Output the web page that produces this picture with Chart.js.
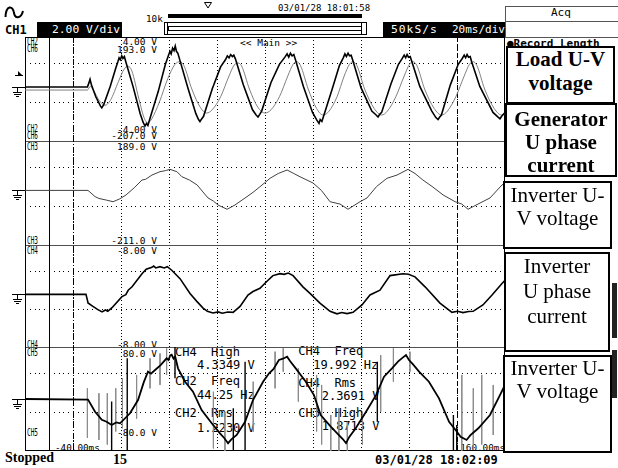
<!DOCTYPE html>
<html>
<head>
<meta charset="utf-8">
<script src="https://cdn.jsdelivr.net/npm/chart.js@4.4.1/dist/chart.umd.min.js"></script>
<style>
  html, body { margin: 0; padding: 0; background: #fff; }
  #scope { position: relative; width: 618px; height: 468px; overflow: hidden; background: #fff; }
  #scope canvas { position: absolute; left: 0; top: 0; z-index: 2; }
  .t { position: absolute; white-space: pre; line-height: 1; color: #000; z-index: 1; font-family: 'DejaVu Sans Mono', monospace; }
  .s { font-size: 9.5px; }
  .ch { font-size: 9.8px; transform: scaleX(0.62); transform-origin: 0 0; }
  .m { font-size: 12px; }
  .b { font-weight: bold; }
  .w { color: #fff; }
  .serif { font-family: 'Liberation Serif', 'Times New Roman', serif; }
  .inv { position: absolute; background: #000; z-index: 1; }
  .cell { position: absolute; border: 1px solid #555; box-sizing: border-box; z-index: 1; }
  .box { position: absolute; z-index: 3; background: #fff; border: 2px solid #000; box-sizing: border-box; text-align: center; white-space: nowrap;
         font-family: 'Liberation Serif', 'Times New Roman', serif; font-size: 21px; color: #000; }
</style>
</head>
<body>
<div id="scope">
  <svg width="618" height="40" style="position:absolute;left:0;top:0;z-index:1">
    <path d="M5.5 17 C6 5, 13 5, 14 13 C15 19, 21 19, 23 11" fill="none" stroke="#000" stroke-width="2"/>
    <polygon points="204.5,2.5 211.5,2.5 208,8" fill="none" stroke="#000" stroke-width="1"/>
    <rect x="168" y="14" width="194" height="4" fill="#000"/>
    <rect x="164.5" y="22.5" width="202" height="12" fill="none" stroke="#000"/>
    <rect x="168.5" y="26.5" width="193" height="4" fill="none" stroke="#000"/>
    <rect x="164.5" y="22.5" width="3" height="12" fill="none" stroke="#000"/>
    <rect x="361.5" y="22.5" width="5" height="12" fill="none" stroke="#000"/>
  </svg>

  <div class="t b" style="left:5px;top:23.6px;font-size:12px">CH1</div>
  <div class="inv" style="left:37px;top:22px;width:85px;height:15px"></div>
  <div class="t w" style="left:52px;top:23.7px;font-size:11.3px;z-index:2">2.00 V/div</div>
  <div class="t" style="left:146px;top:13.9px;font-size:9.3px">10k</div>
  <div class="t" style="left:278px;top:4px;font-size:9px">03/01/28 18:01:58</div>
  <div class="inv" style="left:383px;top:22px;width:122px;height:15px"></div>
  <div class="t w" style="left:391px;top:23.7px;font-size:11.3px;letter-spacing:1px;z-index:2">50kS/s</div>
  <div class="t w" style="left:452px;top:23.7px;font-size:11px;z-index:2">20ms/div</div>

  <div class="cell" style="left:505px;top:6px;width:130px;height:16px"></div>
  <div class="t" style="left:551px;top:7.3px;font-size:11px">Acq</div>
  <div class="cell" style="left:505px;top:21px;width:130px;height:17px"></div>
  <div class="t b" style="left:507px;top:37.7px;font-size:11px">●Record Length</div>

  <!-- channel range labels -->
  <div class="t ch" style="left:26.5px;top:37.3px">CH2</div>
  <div class="t ch" style="left:26.5px;top:44.3px">CH6</div>
  <div class="t s" style="right:461px;top:37.3px">4.00 V</div>
  <div class="t s" style="right:461px;top:45px">193.0 V</div>
  <div class="t s" style="left:240px;top:38.2px">&lt;&lt; Main &gt;&gt;</div>
  <div class="t ch" style="left:26.5px;top:124.3px">CH2</div>
  <div class="t ch" style="left:26.5px;top:131.3px">CH6</div>
  <div class="t s" style="right:461px;top:124.6px">-4.00 V</div>
  <div class="t s" style="right:461px;top:131.4px">-207.0 V</div>

  <div class="t ch" style="left:26.5px;top:142.1px">CH3</div>
  <div class="t s" style="right:461px;top:142.2px">189.0 V</div>
  <div class="t ch" style="left:26.5px;top:235.5px">CH3</div>
  <div class="t s" style="right:461px;top:236.2px">-211.0 V</div>

  <div class="t ch" style="left:26.5px;top:245.8px">CH4</div>
  <div class="t s" style="right:461px;top:246.2px">-8.00 V</div>
  <div class="t ch" style="left:26.5px;top:339.5px">CH4</div>
  <div class="t s" style="right:461px;top:339.6px">-8.00 V</div>

  <div class="t ch" style="left:26.5px;top:347.8px">CH5</div>
  <div class="t s" style="right:461px;top:349px">80.0 V</div>
  <div class="t ch" style="left:26.5px;top:428.3px">CH5</div>
  <div class="t s" style="right:461px;top:428px">-80.0 V</div>

  <div class="t" style="left:55px;top:443.2px;font-size:9.3px">-40.00ms</div>
  <div class="t" style="right:113px;top:443.2px;font-size:9.3px">160.00ms</div>

  <!-- measurements -->
  <div class="t m" style="left:175px;top:345.9px">CH4  High</div>
  <div class="t m" style="left:197px;top:359.3px">4.3349 V</div>
  <div class="t m" style="left:175px;top:375.3px">CH2  Freq</div>
  <div class="t m" style="left:197px;top:388.6px">44.25 Hz</div>
  <div class="t m" style="left:175px;top:406.9px">CH2  Rms</div>
  <div class="t m" style="left:197px;top:421.9px">1.2230 V</div>
  <div class="t m" style="left:298.3px;top:345.3px">CH4  Freq</div>
  <div class="t m" style="left:313.3px;top:358.6px">19.992 Hz</div>
  <div class="t m" style="left:298.3px;top:376.9px">CH4  Rms</div>
  <div class="t m" style="left:321.7px;top:390.3px">2.3691 V</div>
  <div class="t m" style="left:298.3px;top:406.9px">CH3  High</div>
  <div class="t m" style="left:321.7px;top:420.3px">1.8713 V</div>

  <div class="t b serif" style="left:5px;top:451px;font-size:14px">Stopped</div>
  <div class="t b serif" style="left:113px;top:452.6px;font-size:14px">15</div>
  <div class="t b" style="left:375px;top:453.6px;font-size:12px">03/01/28 18:02:09</div>

  <div style="position:absolute;left:612px;top:283px;width:5px;height:55px;background:#222;z-index:1"></div>
  <div style="position:absolute;left:612px;top:350px;width:5px;height:48px;background:#222;z-index:1"></div>

  <canvas id="chart" width="618" height="468"></canvas>

  <div class="box b" style="left:506px;top:46px;width:109px;height:58px;line-height:23.5px">Load U-V<br>voltage</div>
  <div class="box b" style="left:505px;top:103px;width:112px;height:74px;line-height:23.2px;padding-top:3px">Generator<br>U phase<br>current</div>
  <div class="box" style="left:503px;top:181px;width:109px;height:68px;line-height:23.3px;padding-top:1px">Inverter U-<br>V voltage</div>
  <div class="box" style="left:504px;top:252px;width:106px;height:100px;line-height:25px">Inverter<br>U phase<br>current</div>
  <div class="box" style="left:503px;top:355px;width:109px;height:98px;line-height:23.3px">Inverter U-<br>V voltage</div>
</div>

<script>
const black = '#000000';
const traceGray = '#808080';
const darkGray = '#404040';
const spikeGray = '#8c8c8c';
const sepGray = '#505050';

// time axis in ms (20 ms/div), every panel is 8 div high
const timeRange = [-40, 160];
const timeStep = 20;
const divRange = [-4, 4];
const panelIds = ['p1', 'p2', 'p3', 'p4'];
const panelWeights = [104, 104, 102, 104];

const cursorSolid = -30;
const cursorDashDot = -20;
const cursorDashed = 140;
const triggerLevel = 1.1;

// [ms, div]
const ch2 = [
  [-40, 0.15], [-14.0, 0.15], [-13.4, 0.45], [-12.9, 0.75], [-12.3, 0.3], [-10.5, -0.6], [-8.6, -1.3], [-8.0, -1.45], [-7.2, -1.2],
  [-4.5, 0.2], [-2.2, 1.6], [-1.3, 2.1], [-0.8, 2.4], [-0.3, 2.25], [0.3, 2.55], [0.8, 2.35], [1.4, 2.5], [2.0, 2.1],
  [5.0, 0.2], [8.0, -1.9], [9.2, -2.55], [10.0, -2.85], [10.6, -2.65], [11.2, -2.8], [12.0, -2.3],
  [15.5, -0.2], [18.5, 1.9], [19.8, 2.6], [20.4, 2.9], [20.9, 2.7], [21.5, 3.15], [22.1, 2.95], [22.6, 3.3], [23.1, 2.9], [23.7, 2.75], [24.4, 2.3],
  [28.0, 0.0], [31.2, -1.9], [32.3, -2.35], [32.9, -2.5], [33.6, -2.3], [34.4, -2.1],
  [38.0, 0.0], [41.5, 1.7], [43.5, 2.25], [44.3, 2.55], [45.0, 2.4], [45.7, 2.65], [46.4, 2.5], [47.0, 2.6], [47.7, 2.3],
  [51.0, 0.3], [54.8, -1.6], [56.3, -2.0], [57.1, -2.15], [57.8, -1.95], [58.6, -1.7],
  [62.5, 0.5], [66.0, 1.9], [68.3, 2.45], [69.2, 2.7], [69.9, 2.45], [70.6, 2.75], [71.3, 2.55], [72.0, 2.65], [72.6, 2.3],
  [76.0, 0.2], [79.8, -1.8], [81.6, -2.4], [82.5, -2.65], [83.0, -2.35], [83.7, -2.5], [84.4, -2.1],
  [88.0, 0.0], [91.0, 1.8], [92.6, 2.4], [93.3, 2.7], [93.9, 2.5], [94.6, 2.75], [95.2, 2.55], [95.9, 2.6], [96.5, 2.25],
  [100.0, 0.1], [104.5, -1.7], [106.3, -2.0], [107.1, -2.15], [107.8, -1.95], [108.6, -1.8],
  [112.5, 0.4], [115.6, 1.9], [117.2, 2.35], [118.0, 2.6], [118.6, 2.4], [119.2, 2.65], [119.8, 2.45], [120.5, 2.5], [121.1, 2.15],
  [124.5, 0.2], [129.5, -1.7], [131.2, -2.2], [132.1, -2.35], [132.8, -2.15], [133.5, -2.0],
  [137.2, 0.3], [140.5, 1.9], [142.2, 2.35], [143.0, 2.6], [143.6, 2.4], [144.2, 2.65], [144.8, 2.45], [145.5, 2.5], [146.1, 2.1],
  [149.5, 0.2], [155.0, -1.8], [157.0, -2.15], [157.9, -2.3], [158.6, -2.1], [160, -1.8]
];

const ch6 = [
  [-40, -0.08], [-14.0, -0.08], [-12.8, 0.2], [-11.5, -0.1], [-9.0, -0.9], [-6.7, -1.25], [-4.5, -0.9], [-1.0, 0.6], [1.2, 1.5], [2.9, 1.75],
  [4.5, 1.4], [7.5, -0.8], [9.8, -2.3], [11.25, -2.6], [12.8, -2.3], [16.0, -1.0], [19.5, 0.8], [22.5, 1.9], [24.6, 2.1], [26.2, 1.8],
  [29.5, 0.0], [33.0, -1.4], [35.7, -1.85], [38.0, -1.6], [41.5, -0.6], [45.0, 1.0], [47.2, 1.85], [48.75, 2.0], [50.3, 1.75],
  [53.5, 0.0], [57.0, -1.4], [60.0, -1.85], [62.5, -1.6], [66.0, -0.6], [69.5, 1.0], [71.7, 1.9], [73.2, 2.1], [74.8, 1.8],
  [78.0, 0.0], [81.5, -1.5], [84.2, -2.0], [86.7, -1.7], [90.0, -0.6], [93.0, 1.0], [95.2, 1.9], [96.7, 2.1], [98.3, 1.8],
  [101.5, 0.0], [105.5, -1.5], [108.6, -2.0], [111.0, -1.7], [114.5, -0.6], [118.0, 1.0], [120.2, 1.9], [121.7, 2.1], [123.3, 1.8],
  [126.5, 0.0], [130.5, -1.5], [133.6, -2.0], [136.0, -1.7], [139.5, -0.6], [143.0, 1.0], [145.2, 1.9], [146.7, 2.1], [148.3, 1.8],
  [151.5, 0.0], [155.5, -1.5], [158.6, -2.0], [160, -1.9]
];

const ch3 = [
  [-40, 0.2], [-13.75, 0.2], [-10.8, -0.28], [-9.2, -0.42], [-6.0, -0.55], [-3.3, -0.67], [-0.5, -0.45], [2.1, -0.15], [5.5, 0.4],
  [8.75, 1.0], [10.2, 1.05], [12.9, 1.38], [16.25, 1.64], [18.5, 1.72], [20.4, 1.82], [23.3, 1.64], [25.4, 1.25], [28.5, 1.0],
  [31.7, 0.62], [36.25, -0.38], [38.5, -0.62], [40.4, -0.92], [44.2, -1.25], [47.5, -0.92], [52.5, -0.28], [55.0, 0.05],
  [57.9, 0.48], [62.1, 1.13], [65.5, 1.5], [69.2, 1.77], [72.0, 1.5], [74.6, 1.25], [80.0, 0.77], [83.5, 0.2], [87.1, -0.67],
  [91.25, -0.85], [94.6, -1.25], [99.6, -0.67], [102.5, -0.38], [106.5, 0.5], [110.8, 1.13], [115.0, 1.38], [119.6, 1.82],
  [122.5, 1.5], [125.8, 1.0], [130.0, 0.45], [134.2, -0.15], [139.2, -0.67], [142.0, -0.85], [144.6, -1.25], [149.6, -0.77],
  [153.75, -0.38], [158.75, 0.62], [160, 0.77]
];

const ch4 = [
  [-40, 0.13], [-14.6, 0.13], [-13.9, -0.4], [-13.75, -0.55], [-11.7, -0.82], [-9.8, -1.05], [-7.9, -1.25], [-6.5, -1.1], [-5.5, -1.2],
  [-3.75, -0.92], [0.4, -0.05], [2.0, 0.1], [3.0, 0.45], [4.6, 0.72], [8.75, 1.75], [10.5, 2.1], [12.9, 2.25], [13.6, 2.35],
  [14.5, 2.2], [16.25, 2.3], [18.0, 2.2], [19.3, 2.3], [21.25, 2.0], [24.6, 1.36], [28.75, 0.2], [31.5, -0.4], [34.2, -0.95],
  [36.0, -1.2], [38.3, -1.33], [40.5, -1.25], [42.2, -1.35], [44.5, -1.25], [46.7, -1.28], [49.6, -0.82], [52.9, 0.08],
  [55.0, 0.35], [57.9, 0.6], [60.5, 1.1], [63.3, 1.6], [66.25, 1.75], [68.0, 1.7], [69.7, 1.8], [71.7, 1.6], [75.8, 0.72],
  [78.75, 0.2], [82.9, -0.56], [87.1, -1.2], [90.0, -1.4], [92.0, -1.3], [94.2, -1.38], [96.7, -1.28], [100.4, -0.7],
  [103.75, 0.08], [107.9, 0.46], [112.1, 1.6], [117.5, 1.75], [119.8, 1.7], [122.5, 1.5], [126.7, 0.72], [132.9, -0.56],
  [137.9, -1.28], [140.2, -1.2], [142.5, -1.3], [144.8, -1.22], [146.7, -1.2], [150.8, -0.7], [154.6, 0.08], [158.75, 0.98], [160, 1.23]
];

const ch5 = [
  [-40, 0.0], [-13.75, -0.05], [-10.8, -0.98], [-8.0, -1.6], [-6.0, -1.75], [-3.9, -2.0], [-2.0, -1.8], [-0.4, -1.87], [3.75, -1.1],
  [7.1, -0.08], [9.5, 1.3], [11.25, 2.1], [12.5, 1.95], [14.2, 2.23], [16.5, 2.6], [19.0, 3.13], [19.8, 3.0], [20.5, 3.35],
  [21.1, 3.4], [21.9, 3.1], [22.6, 3.25], [23.75, 2.36], [26.7, 1.33], [30.0, 0.56], [33.6, -0.85], [37.8, -1.87], [41.25, -2.64],
  [43.0, -3.0], [44.6, -3.4], [46.0, -3.1], [48.2, -2.77], [51.7, -1.75], [55.0, -0.08], [59.2, 1.33], [61.7, 1.98], [63.5, 2.3],
  [65.8, 3.0], [67.5, 3.1], [69.2, 3.25], [70.5, 2.9], [72.8, 2.36], [77.0, 1.33], [80.4, 0.3], [83.2, -1.23], [87.4, -2.13],
  [90.8, -2.77], [92.5, -3.1], [93.75, -3.4], [95.2, -2.9], [97.8, -2.25], [102.1, -0.98], [106.25, 0.3], [109.6, 1.72],
  [112.9, 2.36], [115.5, 2.9], [117.5, 3.2], [118.75, 3.38], [120.0, 3.0], [121.5, 2.7], [124.2, 2.1], [128.3, 1.33], [132.5, 0.05],
  [136.7, -1.75], [139.9, -2.5], [141.5, -2.9], [144.0, -3.15], [145.5, -2.8], [148.9, -2.25], [153.75, -1.23], [157.9, 0.3], [160, 1.08]
];

// [ms, top div, bottom div]
const ch5SpikesGray = [
  [-14.0, 0.82, -3.0], [-9.2, 0.44, -3.15], [-5.7, 0.44, -3.5], [-2.2, 0.82, -2.5], [0.6, 1.6, -2.25], [6.5, 1.85, -1.5],
  [12.1, 3.13, 0.82], [16.25, 3.5, 1.08], [19.0, 3.9, 1.85], [38.5, 0.56, -3.8], [43.3, -0.98, -4.0], [55.1, 1.33, -2.5],
  [64.2, 3.64, 0.82], [67.6, 3.9, 2.1], [73.9, 2.36, -0.2], [81.5, 1.85, -2.5], [83.6, 1.08, -3.5], [87.4, -1.23, -4.0],
  [90.8, -0.72, -4.0], [94.3, -1.75, -4.0], [100.6, -0.98, -3.5], [108.2, 3.38, -0.98], [113.5, 3.9, 1.33], [120.4, 3.64, 2.1],
  [142.0, 1.85, -4.0], [146.8, 0.82, -3.8], [150.3, 1.85, -3.5], [155.1, 1.08, -2.77]
];
const ch5SpikesBlack = [
  [-3.9, -0.2, -4.0], [2.6, 3.13, -4.0], [22.5, 4.0, 1.6], [46.8, -0.72, -4.0], [51.7, 2.87, -4.0],
  [106.8, 2.87, -1.75], [138.5, -1.23, -4.0], [139.9, -2.0, -4.0]
];

const groundLevels = { p1: ch2[0][1], p2: ch3[0][1], p3: ch4[0][1], p4: ch5[0][1] };

function toPoints(arr) {
  return arr.map(([x, y]) => ({ x, y }));
}

function toSpikes(arr) {
  return arr.flatMap(([x, hi, lo]) => [{ x, y: hi }, { x, y: lo }, { x, y: null }]);
}

function trace(data, yAxisID, color, width, extra) {
  return Object.assign({
    data, yAxisID, xAxisID: 'x',
    borderColor: color, borderWidth: width,
    pointRadius: 0, fill: false, tension: 0, spanGaps: false
  }, extra || {});
}

const scopeFrame = {
  id: 'scopeFrame',
  beforeDatasetsDraw(chart) {
    const { ctx, chartArea: { left, top, right, bottom }, scales } = chart;
    const xs = scales.x;
    ctx.save();
    ctx.fillStyle = black;

    // dotted rows, 10 dots per division
    const dotStep = (right - left) / ((timeRange[1] - timeRange[0]) / timeStep) / 10;
    panelIds.forEach((id) => {
      const s = scales[id];
      s.ticks.forEach((t) => {
        if (t.value <= s.min || t.value >= s.max) return;
        const py = Math.round(s.getPixelForValue(t.value));
        for (let px = left; px < right; px += dotStep) ctx.fillRect(Math.round(px), py, 1, 1);
      });
    });

    // dotted columns, 4 dots per division
    const rowStep = (scales.p1.bottom - scales.p1.top) / (divRange[1] - divRange[0]) / 4;
    xs.ticks.forEach((t) => {
      if (t.value <= xs.min || t.value >= xs.max) return;
      const px = Math.round(xs.getPixelForValue(t.value));
      for (let py = top; py < bottom; py += rowStep) ctx.fillRect(px, Math.round(py), 1, 1);
    });

    // panel separators and frame
    ctx.fillStyle = sepGray;
    panelIds.slice(1).forEach((id) => ctx.fillRect(left, Math.round(scales[id].top), right - left, 1));
    ctx.fillStyle = black;
    ctx.fillRect(left, top, right - left, 1);
    ctx.fillRect(left, bottom - 1, right - left, 1);
    ctx.fillRect(left, top, 1, bottom - top);
    ctx.fillRect(right - 1, top, 1, bottom - top);

    // cursors
    ctx.strokeStyle = black;
    ctx.lineWidth = 1;
    [[cursorSolid, []], [cursorDashDot, [6, 2, 1, 2]], [cursorDashed, [5, 3]]].forEach(([ms, dash]) => {
      const px = Math.round(xs.getPixelForValue(ms)) + 0.5;
      ctx.setLineDash(dash);
      ctx.beginPath();
      ctx.moveTo(px, top);
      ctx.lineTo(px, bottom);
      ctx.stroke();
    });
    ctx.restore();
  },
  afterDraw(chart) {
    const { ctx, chartArea: { left }, scales } = chart;
    ctx.save();
    ctx.fillStyle = black;
    panelIds.forEach((id) => {
      const py = Math.round(scales[id].getPixelForValue(groundLevels[id]));
      ctx.fillRect(left - 13, py, 13, 1);
      ctx.fillRect(left - 8, py, 1, 5);
      ctx.fillRect(left - 12, py + 5, 9, 1);
      ctx.fillRect(left - 11, py + 7, 7, 1);
      ctx.fillRect(left - 9, py + 9, 3, 1);
    });
    const ty = Math.round(scales.p1.getPixelForValue(triggerLevel));
    ctx.fillRect(left - 10, ty, 8, 1);
    ctx.beginPath();
    ctx.moveTo(left - 7, ty - 4);
    ctx.lineTo(left - 3, ty);
    ctx.lineTo(left - 7, ty);
    ctx.closePath();
    ctx.fill();
    ctx.restore();
  }
};

const scales = {
  x: { type: 'linear', min: timeRange[0], max: timeRange[1], display: false, ticks: { stepSize: timeStep } }
};
// left stacked axes are placed last-defined on top, so add the bottom panel first
panelIds.slice().reverse().forEach((id) => {
  scales[id] = {
    type: 'linear', axis: 'y', position: 'left', stack: 'scope',
    stackWeight: panelWeights[panelIds.indexOf(id)],
    min: divRange[0], max: divRange[1], display: false,
    ticks: { stepSize: 1 }
  };
});

const chart = new Chart(document.getElementById('chart'), {
  type: 'line',
  plugins: [scopeFrame],
  data: {
    datasets: [
      trace(toPoints(ch2), 'p1', black, 1.6),
      trace(toPoints(ch6), 'p1', traceGray, 1, { cubicInterpolationMode: 'monotone' }),
      trace(toPoints(ch3), 'p2', darkGray, 1),
      trace(toPoints(ch4), 'p3', black, 1.6),
      trace(toSpikes(ch5SpikesBlack), 'p4', black, 1.4),
      trace(toPoints(ch5), 'p4', black, 1.8),
      trace(toSpikes(ch5SpikesGray), 'p4', spikeGray, 1)
    ]
  },
  options: {
    responsive: false,
    animation: false,
    devicePixelRatio: 1,
    events: [],
    layout: { padding: { left: 25, top: 37, right: 113, bottom: 17 } },
    scales: scales,
    plugins: {
      legend: { display: false },
      tooltip: { enabled: false }
    }
  }
});
</script>
</body>
</html>
